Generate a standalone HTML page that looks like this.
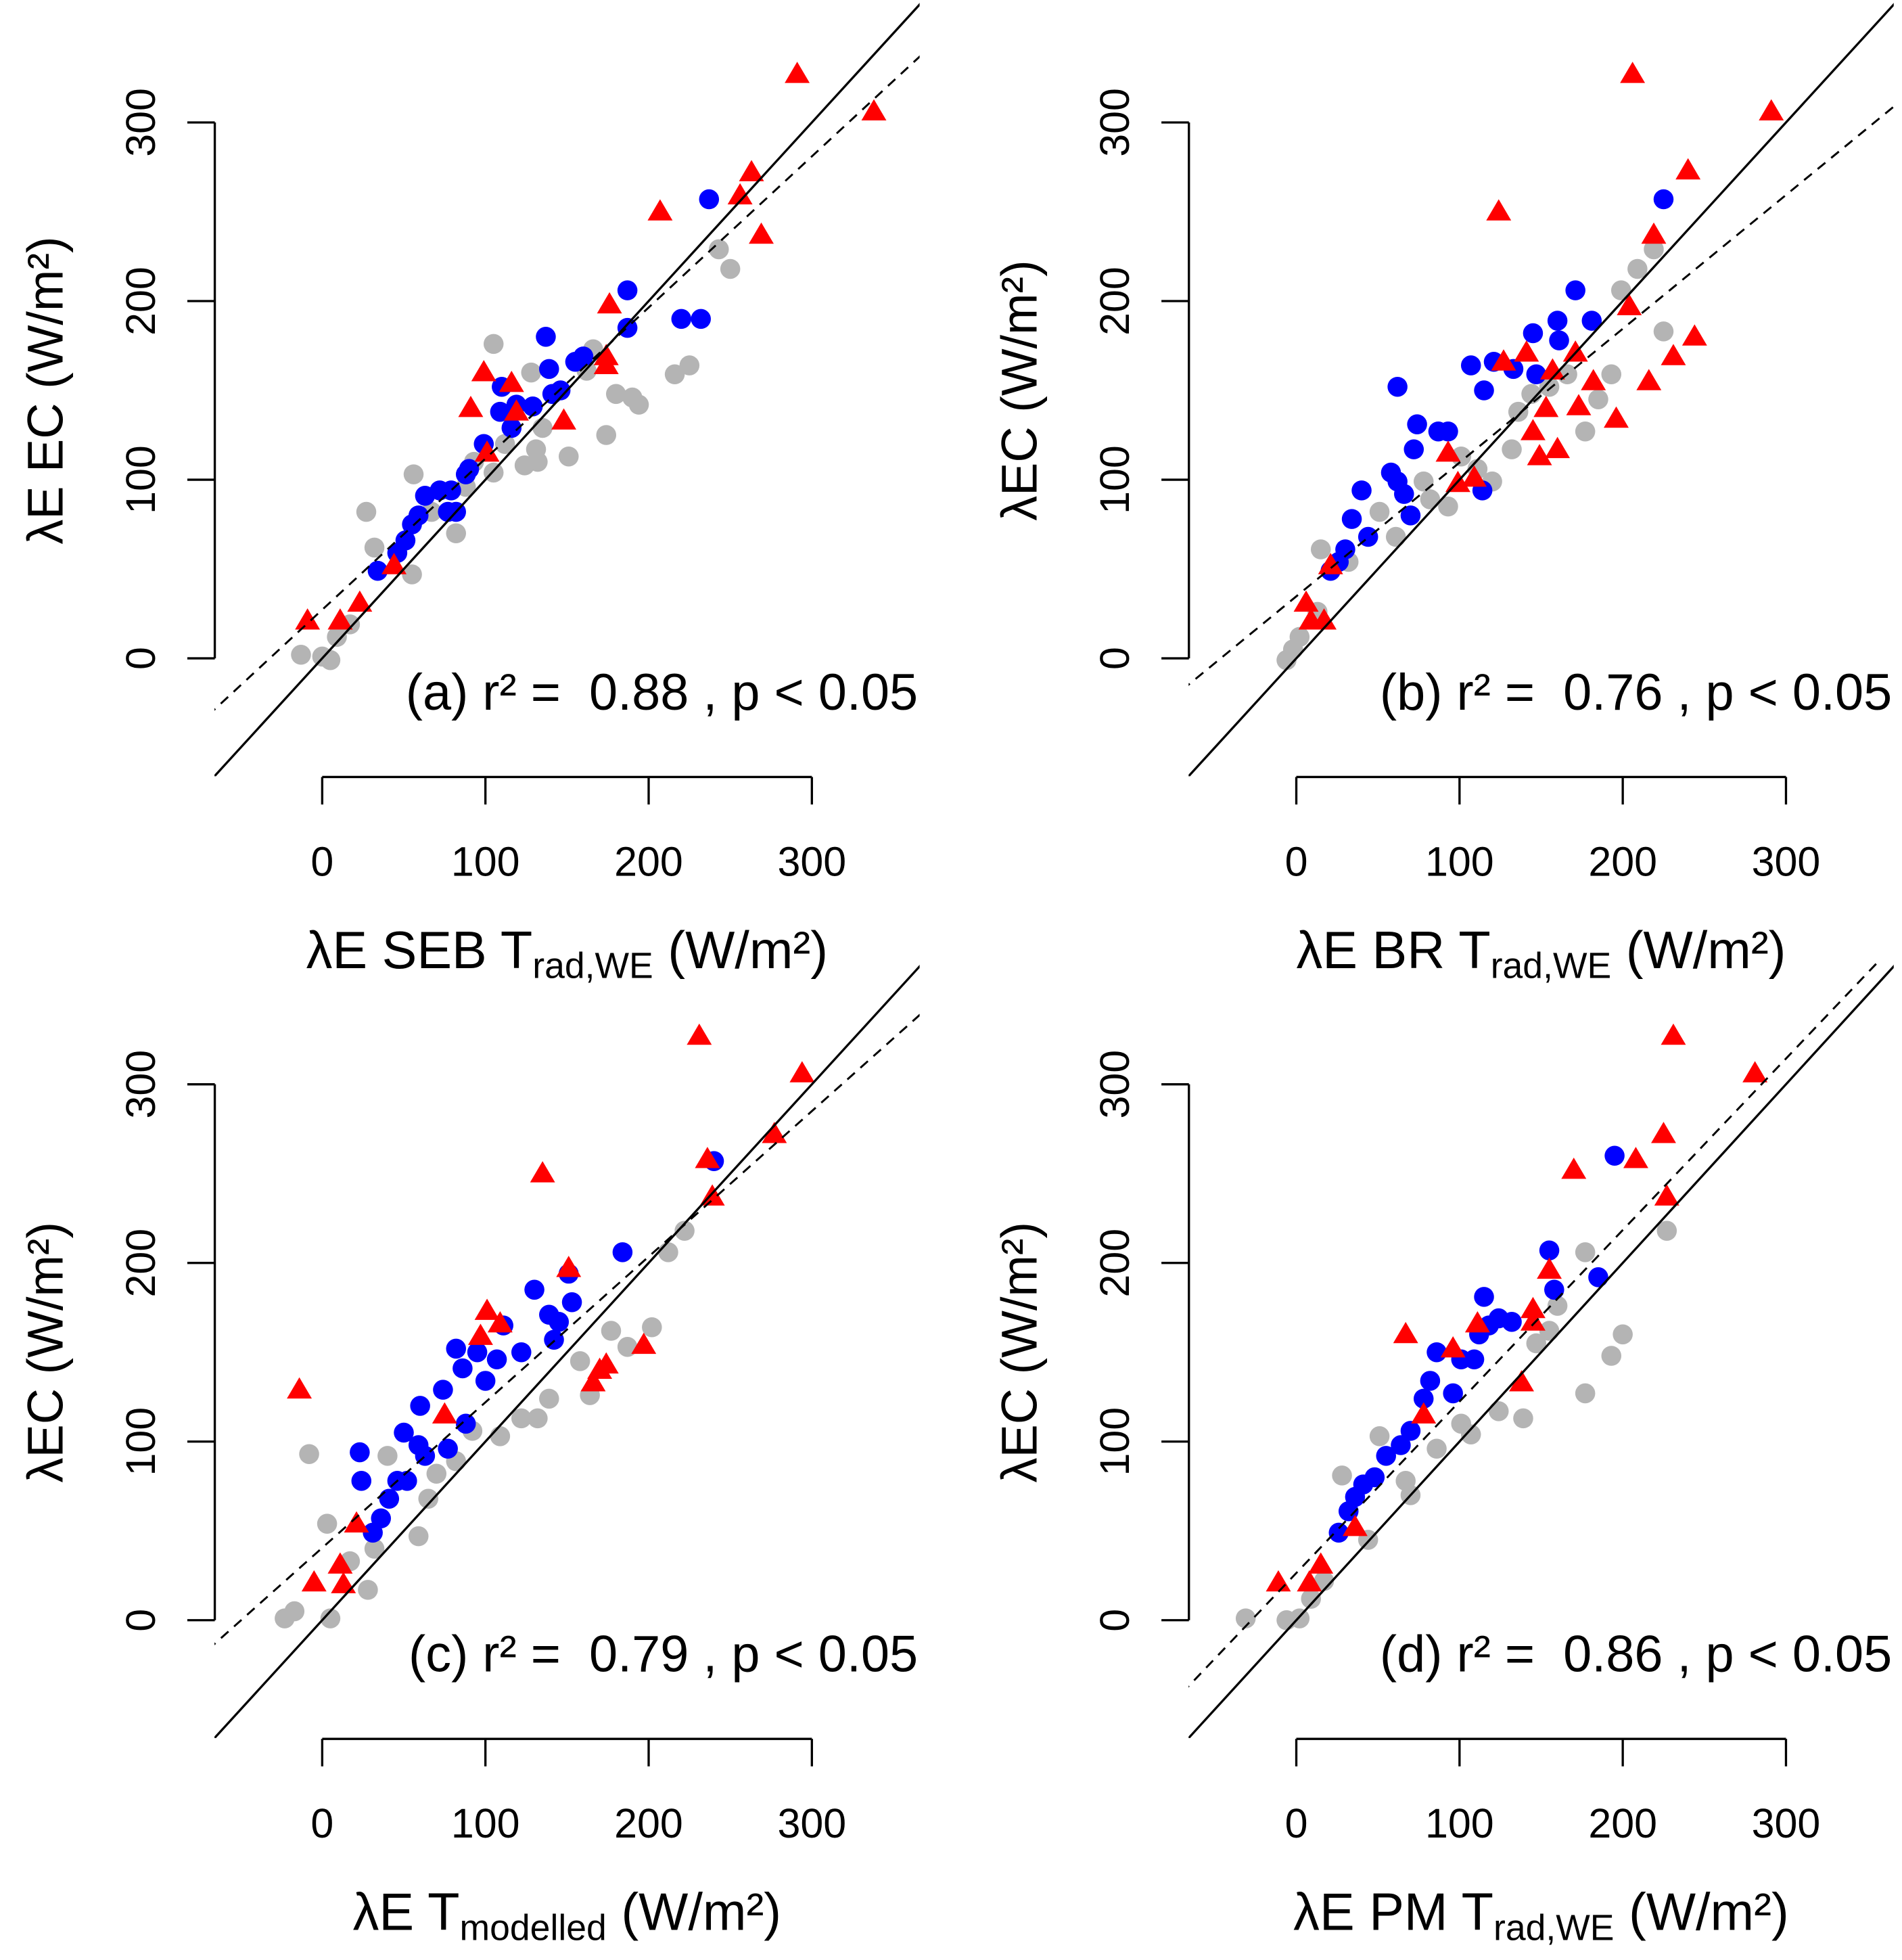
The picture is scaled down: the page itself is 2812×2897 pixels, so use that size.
<!DOCTYPE html>
<html><head><meta charset="utf-8"><style>
html,body{margin:0;padding:0;background:#fff;}
svg{display:block;font-family:"Liberation Sans",sans-serif;}
</style></head><body>
<svg id="chart" width="2812" height="2897" viewBox="0 0 1523 1569" xmlns="http://www.w3.org/2000/svg"></svg>
<script>
// Panel data [x,y]
const redA=[[-9,21],[11,21],[23,31],[44,52],[91,140],[99,160],[101,115],[116,154],[119,138],[148,133],[176,198],[174,169],[174,164],[207,250],[256,259],[263,272],[269,237],[291,327],[338,306]];
const blueA=[[34,49],[46,59],[51,66],[55,75],[59,80],[63,91],[72,94],[77,82],[82,82],[79,94],[88,103],[90,106],[99,120],[109,138],[110,152],[116,129],[119,142],[129,141],[137,180],[139,162],[141,148],[146,150],[155,166],[160,169],[187,206],[187,185],[220,190],[232,190],[237,257]];
const grayA=[[-13,2],[0,1],[5,-1],[9,12],[17,19],[27,82],[32,62],[55,47],[56,103],[67,82],[82,70],[88,96],[93,110],[105,104],[112,120],[124,108],[131,117],[132,110],[135,129],[128,160],[151,113],[162,161],[166,173],[174,125],[180,148],[190,146],[194,142],[216,159],[225,164],[243,229],[250,218],[105,176]];
const redB=[[6,31],[9,21],[17,21],[21,52],[93,115],[99,98],[109,101],[124,250],[127,166],[141,171],[145,127],[149,113],[153,140],[157,161],[160,117],[171,171],[173,141],[182,155],[196,134],[204,197],[206,327],[216,155],[219,237],[231,169],[240,273],[244,180],[291,306]];
const blueB=[[21,49],[26,54],[30,61],[34,78],[40,94],[44,68],[58,104],[62,99],[62,152],[66,92],[70,80],[72,117],[74,131],[87,127],[93,127],[114,94],[107,164],[115,150],[121,166],[133,162],[145,182],[147,159],[160,189],[161,178],[171,206],[181,189],[225,257]];
const grayB=[[-6,-1],[-2,5],[2,12],[13,26],[15,61],[32,54],[51,82],[61,68],[78,99],[82,89],[93,85],[101,113],[111,106],[120,99],[132,117],[136,138],[144,148],[155,152],[166,159],[177,127],[185,145],[193,159],[199,206],[209,218],[219,229],[225,183]];
const redC=[[-14,129],[-5,21],[11,31],[13,20],[21,54],[75,115],[97,159],[101,173],[109,166],[135,250],[151,197],[166,133],[170,140],[174,143],[197,154],[231,327],[236,258],[239,237],[277,272],[294,306]];
const blueC=[[23,94],[24,78],[31,49],[36,57],[41,68],[46,78],[52,78],[50,105],[59,98],[63,92],[60,120],[74,129],[77,96],[82,152],[86,141],[88,110],[95,150],[100,134],[107,146],[111,165],[122,150],[130,185],[139,171],[142,157],[145,167],[151,194],[153,178],[184,206],[240,257]];
const grayC=[[-23,1],[-17,5],[-8,93],[3,54],[5,1],[17,33],[28,17],[32,40],[40,92],[59,47],[65,68],[70,82],[82,89],[92,106],[109,103],[122,113],[132,113],[139,124],[158,145],[164,126],[177,162],[187,153],[202,164],[212,206],[222,218]];
const redD=[[-11,21],[8,21],[15,31],[36,52],[67,160],[78,115],[96,152],[111,166],[138,133],[145,174],[145,167],[155,196],[170,252],[208,258],[225,272],[227,237],[231,327],[281,306]];
const blueD=[[26,49],[32,61],[36,69],[41,76],[48,80],[55,92],[64,98],[70,106],[78,124],[82,134],[86,150],[96,127],[101,146],[109,146],[112,160],[115,181],[118,165],[124,169],[132,167],[155,207],[158,185],[185,192],[195,260]];
const grayD=[[-31,1],[-6,0],[2,1],[9,12],[17,22],[28,81],[44,45],[51,103],[67,78],[70,70],[86,96],[101,110],[107,104],[124,117],[139,113],[147,155],[155,162],[160,176],[177,127],[193,148],[200,160],[177,206],[227,218]];
const slopes=[0.846,0.749,0.815,0.96];
const intercepts=[27.2,34.7,40.5,26.4];
const r2Labels=["0.88","0.76","0.79","0.86"];
const tickVals=[0,100,200,300];

const NS="http://www.w3.org/2000/svg";
const svg=document.getElementById('chart');
function mk(tag,attrs,parent){const e=document.createElementNS(NS,tag);for(const k in attrs)e.setAttribute(k,attrs[k]);(parent||svg).appendChild(e);return e;}

const panels=[
 {ox:0,oy:0,letter:"a",xt:["λE SEB T","rad,WE"],yt:"λE EC (W/m²)",red:redA,blue:blueA,gray:grayA},
 {ox:780,oy:0,letter:"b",xt:["λE BR T","rad,WE"],yt:"λEC (W/m²)",red:redB,blue:blueB,gray:grayB},
 {ox:0,oy:770,letter:"c",xt:["λE T","modelled"],yt:"λEC (W/m²)",red:redC,blue:blueC,gray:grayC},
 {ox:780,oy:770,letter:"d",xt:["λE PM T","rad,WE"],yt:"λEC (W/m²)",red:redD,blue:blueD,gray:grayD}
];
panels.forEach((p,i)=>{
 const g=mk('g',{});
 
 
 const sx=v=>258+p.ox+v*1.307;
 const sy=v=>527+p.oy-v*1.43;
 const clipId='clip'+i;
 const cp=mk('clipPath',{id:clipId},g);
 mk('rect',{x:sx(-66),y:sy(370),width:sx(366)-sx(-66),height:sy(-66)-sy(370)},cp);
 const pg=mk('g',{'clip-path':'url(#'+clipId+')'},g);
 p.gray.forEach(d=>{const c=mk('circle',{cx:sx(d[0]),cy:sy(d[1]),r:8,fill:'#b4b4b4'},pg);
  
  });
 p.blue.forEach(d=>{const c=mk('circle',{cx:sx(d[0]),cy:sy(d[1]),r:8,fill:'#0000ff'},pg);
  
  });
 p.red.forEach(d=>{const x=sx(d[0]),y=sy(d[1]);const t=mk('polygon',{points:`${x},${y-10} ${x-10},${y+7} ${x+10},${y+7}`,fill:'#ff0000'},pg);
  
  });
 const l1=mk('line',{x1:sx(-70),y1:sy(-70),x2:sx(370),y2:sy(370),stroke:'#000','stroke-width':1.8},pg);
 
 
 const l2=mk('line',{x1:sx(-70),y1:sy(intercepts[i]+slopes[i]*-70),x2:sx(370),y2:sy(intercepts[i]+slopes[i]*370),stroke:'#000','stroke-width':1.6,'stroke-dasharray':'8,6'},pg);
 
 
 const ya=mk('g',{},g);
 
 
 const axX=172+p.ox;
 mk('line',{x1:axX,y1:sy(0),x2:axX,y2:sy(300),stroke:'#000','stroke-width':1.8},ya);
 tickVals.forEach(v=>{mk('line',{x1:axX-22,y1:sy(v),x2:axX,y2:sy(v),stroke:'#000','stroke-width':1.8},ya);
  const t=mk('text',{x:0,y:0,transform:`translate(${axX-48},${sy(v)}) rotate(-90)`,'text-anchor':'middle','font-size':33,fill:'#000'},ya);
  
  
  t.textContent=v;});
 const yt=mk('text',{transform:`translate(${50+p.ox},${sy(150)}) rotate(-90)`,'text-anchor':'middle','font-size':40},g);
 
 
 yt.textContent=p.yt;
 const xa=mk('g',{},g);
 
 
 const axY=622+p.oy;
 mk('line',{x1:sx(0),y1:axY,x2:sx(300),y2:axY,stroke:'#000','stroke-width':1.8},xa);
 tickVals.forEach(v=>{mk('line',{x1:sx(v),y1:axY,x2:sx(v),y2:axY+22,stroke:'#000','stroke-width':1.8},xa);
  const t=mk('text',{x:sx(v),y:axY+79,'text-anchor':'middle','font-size':33},xa);
  
  
  t.textContent=v;});
 const xt=mk('text',{x:sx(150),y:775+p.oy,'text-anchor':'middle','font-size':42},g);
 
 
 const a=mk('tspan',{},xt);a.textContent=p.xt[0];
 const b=mk('tspan',{'font-size':29,dy:8},xt);b.textContent=p.xt[1];
 const c=mk('tspan',{dy:-8},xt);c.textContent=' (W/m²)';
 const an=mk('text',{x:735+p.ox,y:568+p.oy,'text-anchor':'end','font-size':41,style:'white-space:pre'},g);
 
 
 an.textContent='('+p.letter+') r² =  '+r2Labels[i]+' , p < 0.05';
});
</script>
</body></html>
